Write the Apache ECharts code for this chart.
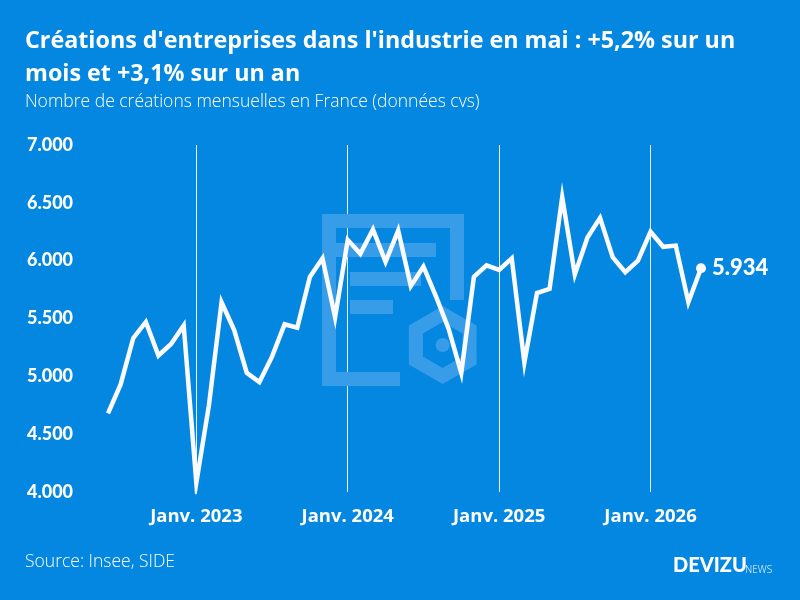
<!DOCTYPE html>
<html>
<head>
<meta charset="utf-8">
<script src="https://cdn.jsdelivr.net/npm/echarts@6/dist/echarts.min.js"></script>
<style>
html,body{margin:0;padding:0;background:#0487e0;}
#chart{width:800px;height:600px;}
</style>
</head>
<body>
<div id="chart"></div>
<script>
// mois (juin 2022 -> mai 2026)
var months = [
	'2022-06','2022-07','2022-08','2022-09','2022-10','2022-11','2022-12',
	'2023-01','2023-02','2023-03','2023-04','2023-05','2023-06','2023-07','2023-08','2023-09','2023-10','2023-11','2023-12',
	'2024-01','2024-02','2024-03','2024-04','2024-05','2024-06','2024-07','2024-08','2024-09','2024-10','2024-11','2024-12',
	'2025-01','2025-02','2025-03','2025-04','2025-05','2025-06','2025-07','2025-08','2025-09','2025-10','2025-11','2025-12',
	'2026-01','2026-02','2026-03','2026-04','2026-05'
];
// créations mensuelles, industrie (cvs)
var creations = [
	4680,4930,5330,5470,5180,5280,5440,
	4080,4750,5640,5400,5030,4950,5170,5450,5420,5860,6020,5510,
	6180,6060,6270,5990,6260,5780,5950,5690,5410,5030,5860,5960,
	5920,6020,5120,5720,5756,6550,5880,6200,6370,6030,5900,6000,
	6250,6120,6130,5641,5934
];
var yTicks = [4000,4500,5000,5500,6000,6500,7000];

var titre1 = "Créations d'entreprises dans l'industrie en mai : +5,2% sur un";
var titre2 = "mois et +3,1% sur un an";
var sousTitre = "Nombre de créations mensuelles en France (données cvs)";
var source = "Source: Insee, SIDE";

var bg = '#0487e0';
var wm = '#389de8'; // filigrane
var font = '"Open Sans", Lato, sans-serif';
var fontNum = 'Lato, "Open Sans", sans-serif';

function fmtMille(v){//4000 -> 4.000
	var s = String(Math.round(v));
	if(s.length<=3) return s;
	return s.slice(0,s.length-3)+'.'+s.slice(s.length-3);
}
function isJanv(v){ return v.slice(5)==='01'; }

// hexagone du filigrane
var hexPts = [];
for(var k=0;k<6;k++){
	var a = Math.PI/180*(60*k-90);
	hexPts.push([442.7+31*Math.cos(a), 345+31*Math.sin(a)]);
}

var myChart = echarts.init(document.getElementById('chart'));
var option = {
	backgroundColor: bg,
	animation: false,
	grid: { left: 108, right: 99, top: 145, bottom: 108 },
	xAxis: {
		type: 'category',
		data: months,
		boundaryGap: false,
		axisLine: { show: false },
		axisTick: { show: false },
		splitLine: {
			show: true,
			interval: function(i, v){ return isJanv(v); },
			lineStyle: { color: 'rgba(255,255,255,0.9)', width: 1 }
		},
		axisLabel: {
			interval: function(i, v){ return isJanv(v); },
			formatter: function(v){ return 'Janv. ' + v.slice(0,4); },
			color: '#fff',
			fontFamily: font,
			fontWeight: 'bold',
			fontSize: 18.5,
			margin: 15
		}
	},
	yAxis: {
		type: 'value',
		min: yTicks[0],
		max: yTicks[yTicks.length-1],
		interval: 500,
		splitLine: { show: false },
		axisLine: { show: false },
		axisTick: { show: false },
		axisLabel: {
			color: '#fff',
			fontFamily: fontNum,
			fontWeight: 900,
			fontSize: 18,
			align: 'left',
			margin: 81,
			formatter: fmtMille
		}
	},
	series: [{
		type: 'line',
		data: creations,
		z: 5,
		showAllSymbol: true,
		symbol: 'circle',
		symbolSize: function(v, p){ return p.dataIndex===creations.length-1 ? 10 : 0; },
		itemStyle: { color: '#fbfbff' },
		lineStyle: { color: '#fbfbff', width: 4.5, join: 'miter' },
		endLabel: {
			show: true,
			formatter: function(p){ return fmtMille(p.value); },
			color: '#fff',
			fontFamily: fontNum,
			fontWeight: 900,
			fontSize: 22,
			distance: 11
		}
	}],
	graphic: [
		// filigrane
		{ type: 'rect', z: 1, shape: { x: 322, y: 214, width: 14, height: 172 }, style: { fill: wm } },
		{ type: 'rect', z: 1, shape: { x: 336, y: 214, width: 128, height: 14 }, style: { fill: wm } },
		{ type: 'rect', z: 1, shape: { x: 450, y: 228, width: 14, height: 72 }, style: { fill: wm } },
		{ type: 'rect', z: 1, shape: { x: 336, y: 372, width: 64, height: 14 }, style: { fill: wm } },
		{ type: 'rect', z: 1, shape: { x: 336, y: 243, width: 100, height: 14 }, style: { fill: wm } },
		{ type: 'rect', z: 1, shape: { x: 350, y: 272, width: 71, height: 14 }, style: { fill: wm } },
		{ type: 'rect', z: 1, shape: { x: 350, y: 300, width: 43, height: 14 }, style: { fill: wm } },
		{ type: 'polygon', z: 1, shape: { points: hexPts }, style: { fill: null, stroke: wm, lineWidth: 14, lineJoin: 'miter' } },
		{ type: 'circle', z: 1, shape: { cx: 442.7, cy: 345, r: 7 }, style: { fill: wm } },
		// titres
		{ type: 'text', z: 10, style: { text: titre1, x: 25, y: 41, verticalAlign: 'middle', fill: '#fff', fontFamily: font, fontWeight: 'bold', fontSize: 23.3 } },
		{ type: 'text', z: 10, style: { text: titre2, x: 25, y: 74, verticalAlign: 'middle', fill: '#fff', fontFamily: font, fontWeight: 'bold', fontSize: 23.3 } },
		{ type: 'text', z: 10, style: { text: sousTitre, x: 25, y: 102, verticalAlign: 'middle', fill: '#fff', fontFamily: font, fontWeight: 300, fontSize: 17.5 } },
		{ type: 'text', z: 10, style: { text: source, x: 25, y: 562, verticalAlign: 'middle', fill: '#fff', fontFamily: font, fontWeight: 300, fontSize: 17.5 } },
		// logo
		{ type: 'text', z: 10, style: { text: 'DEVIZU', x: 673, y: 566, verticalAlign: 'middle', fill: '#fff', fontFamily: fontNum, fontWeight: 900, fontSize: 20 } },
		{ type: 'text', z: 10, style: { text: 'NEWS', x: 745, y: 570, verticalAlign: 'middle', fill: '#fff', fontFamily: font, fontWeight: 300, fontSize: 10 } }
	]
};
myChart.setOption(option);
</script>
</body>
</html>
